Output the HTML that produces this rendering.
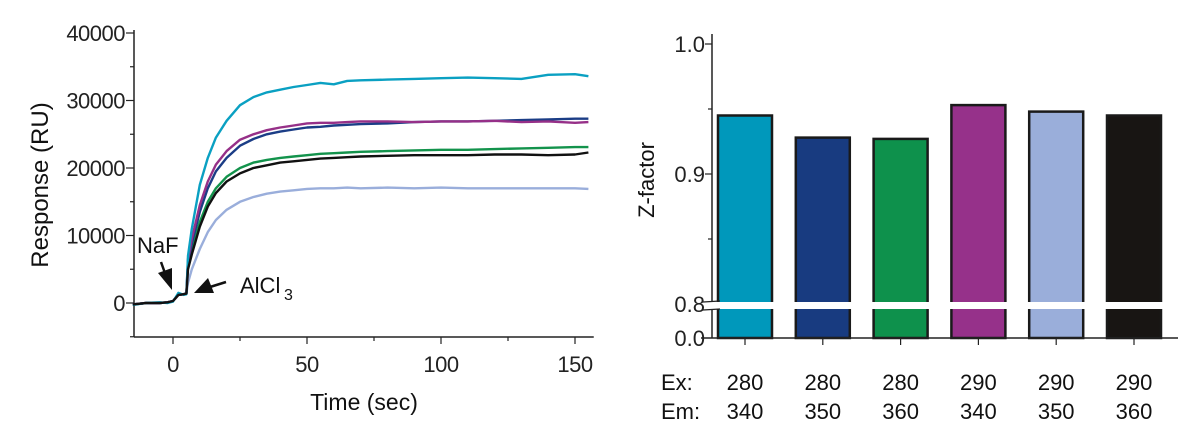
<!DOCTYPE html>
<html><head><meta charset="utf-8"><style>
html,body{margin:0;padding:0;background:#fff;}
svg{display:block;font-family:"Liberation Sans",Arial,sans-serif;}
</style></head><body>
<svg width="1200" height="446" viewBox="0 0 1200 446" xmlns="http://www.w3.org/2000/svg">
<g id="left"></g>
<g id="right"></g>
</svg>
<script>
const times = [-15,-10,-5,-2,0,2,4,5,5.6,7,10,13,16,20,25,30,35,40,45,50,55,60,65,70,80,90,100,110,120,130,140,150,155];
const pre = [-200,0,0,100,300,1200,1300,1400];
const cyanVals = [-300,0,100,0,200,1500,1200,1300,7000,11000,17500,21500,24500,27000,29300,30500,31200,31600,32000,32300,32600,32400,32900,33000,33100,33200,33300,33400,33300,33200,33800,33900,33600];
const purpleVals = pre.concat([6500,9500,14500,18000,20500,22500,24200,25000,25600,26000,26300,26600,26700,26700,26800,26900,26900,26800,26900,26900,27000,26800,26900,26700,26800]);
const navyVals = pre.concat([6000,8800,13500,17000,19500,21500,23300,24300,25000,25400,25700,26000,26100,26300,26400,26500,26600,26800,26900,26900,27000,27100,27200,27300,27300]);
const greenVals = pre.concat([5500,8000,12000,15000,17000,18700,20000,20800,21200,21500,21700,21900,22100,22200,22300,22400,22500,22600,22700,22700,22800,22900,23000,23100,23100]);
const lightVals = pre.concat([3000,5000,8000,10500,12300,13800,15000,15700,16200,16500,16700,16900,17000,17000,17100,17000,17100,17000,17100,17000,17000,17000,17000,17000,16900]);
const blackVals = pre.concat([5000,7200,11300,14300,16300,18000,19200,20000,20400,20800,21000,21200,21400,21500,21600,21700,21800,21900,21900,21900,22000,22000,21900,22000,22300]);
const seriesNames = ["light","green","navy","purple","cyan","black"];
const seriesColors = ["#9aaedb","#13934c","#1b3d86","#963088","#0aa0c2","#111111"];
const seriesData = [lightVals,greenVals,navyVals,purpleVals,cyanVals,blackVals];
const yTicks = [0,10000,20000,30000,40000];
const xTicks = [0,50,100,150];

const barLabelsEx = ["280","280","280","290","290","290"];
const barLabelsEm = ["340","350","360","340","350","360"];
const zValues = [0.945,0.928,0.927,0.953,0.948,0.945];
const barColors = ["#0098bb","#183b80","#0e914c","#96318a","#9aaeda","#181513"];

const NS="http://www.w3.org/2000/svg";
function mk(parent,tag,attrs,text){const e=document.createElementNS(NS,tag);for(const k in attrs)e.setAttribute(k,attrs[k]);if(text!==undefined)e.textContent=text;parent.appendChild(e);return e;}

// left chart
const L=document.getElementById('left');
const xs=t=>173+(t)*2.68;
const ys=v=>303-v*0.00675;
let e;
e=mk(L,'line',{x1:134,y1:30,x2:134,y2:337,stroke:'#222','stroke-width':1.5});

e=mk(L,'line',{x1:134,y1:337,x2:xs(157),y2:337,stroke:'#222','stroke-width':1.5});

for(let v=-5000;v<=40000;v+=5000){const major=v%10000===0;
 e=mk(L,'line',{x1:major?126:130,y1:ys(v),x2:134,y2:ys(v),stroke:'#222','stroke-width':1.2});
 }
yTicks.forEach(v=>{e=mk(L,'text',{x:125,y:ys(v)+8,'text-anchor':'end','font-size':22,fill:'#222','letter-spacing':'-0.5'},String(v));
 });
for(let t=0;t<=150;t+=25){const major=t%50===0;
 e=mk(L,'line',{x1:xs(t),y1:337,x2:xs(t),y2:major?344:341,stroke:'#222','stroke-width':1.2});
 }
xTicks.forEach(t=>{e=mk(L,'text',{x:xs(t),y:372,'text-anchor':'middle','font-size':22,fill:'#222','letter-spacing':'-0.5'},String(t));
 });
e=mk(L,'text',{x:364,y:410,'text-anchor':'middle','font-size':23,fill:'#111'},'Time (sec)');

e=mk(L,'text',{x:0,y:0,'text-anchor':'middle','font-size':24,fill:'#111',transform:'translate(48,185) rotate(-90)'},'Response (RU)');

seriesData.forEach((vals,i)=>{
 const d=vals.map((v,j)=>(j?'L':'M')+xs(times[j]).toFixed(1)+','+ys(v).toFixed(1)).join(' ');
 e=mk(L,'path',{d:d,fill:'none',stroke:seriesColors[i],'stroke-width':2.4,'stroke-linejoin':'round'});
 
});
e=mk(L,'text',{x:137,y:253,'font-size':22,fill:'#111'},'NaF');

e=mk(L,'g',{});
mk(e,'line',{x1:161,y1:262,x2:166,y2:276,stroke:'#111','stroke-width':2.5});
mk(e,'polygon',{points:'172,290 158,273 172,268',fill:'#111'});
e=mk(L,'text',{x:240,y:293,'font-size':22,fill:'#111'},'AlCl');

e=mk(L,'text',{x:284,y:300,'font-size':16,fill:'#111'},'3');

e=mk(L,'g',{});
mk(e,'line',{x1:226,y1:282,x2:210,y2:287,stroke:'#111','stroke-width':2.5});
mk(e,'polygon',{points:'194,293 208,278 214,293',fill:'#111'});

// right chart
const R=document.getElementById('right');
const zy=v=>174-(v-0.9)*1300;
const ax=712, base=338;
const barX=i=>718+i*77.8, bw=54;
zValues.forEach((v,i)=>{
 e=mk(R,'rect',{x:barX(i),y:zy(v),width:bw,height:base-zy(v),fill:barColors[i],stroke:'#1a1a1a','stroke-width':2.5});
 
});
e=mk(R,'rect',{x:714,y:302,width:450,height:7,fill:'#fff'});

e=mk(R,'line',{x1:ax,y1:34,x2:ax,y2:302,stroke:'#222','stroke-width':1.5});

e=mk(R,'line',{x1:ax,y1:309,x2:ax,y2:338,stroke:'#222','stroke-width':1.5});

e=mk(R,'line',{x1:703,y1:302,x2:720,y2:301,stroke:'#222','stroke-width':1.3});

e=mk(R,'line',{x1:703,y1:310,x2:720,y2:309,stroke:'#222','stroke-width':1.3});

e=mk(R,'line',{x1:701,y1:base,x2:1178,y2:base,stroke:'#222','stroke-width':1.5});

[[1.0,'1.0',true],[0.95,'',false],[0.9,'0.9',true],[0.85,'',false]].forEach(([v,l,m])=>{
 e=mk(R,'line',{x1:m?705:708,y1:zy(v),x2:ax,y2:zy(v),stroke:'#222','stroke-width':1.2});
 
 if(l){e=mk(R,'text',{x:705,y:zy(v)+8,'text-anchor':'end','font-size':22,fill:'#222'},l);
 }
});
e=mk(R,'text',{x:705,y:312,'text-anchor':'end','font-size':22,fill:'#222'},'0.8');

e=mk(R,'text',{x:705,y:346,'text-anchor':'end','font-size':22,fill:'#222'},'0.0');

e=mk(R,'text',{x:0,y:0,'text-anchor':'middle','font-size':22,fill:'#111',transform:'translate(654,180) rotate(-90)'},'Z-factor');

e=mk(R,'text',{x:661,y:390,'font-size':22,fill:'#111'},'Ex:');

e=mk(R,'text',{x:661,y:419,'font-size':22,fill:'#111'},'Em:');

zValues.forEach((v,i)=>{const cx=barX(i)+bw/2;
 e=mk(R,'line',{x1:cx,y1:base,x2:cx,y2:base+7,stroke:'#222','stroke-width':1.2});
 
 e=mk(R,'text',{x:cx,y:390,'text-anchor':'middle','font-size':22,fill:'#111'},barLabelsEx[i]);
 
 e=mk(R,'text',{x:cx,y:419,'text-anchor':'middle','font-size':22,fill:'#111'},barLabelsEm[i]);
 
});
</script>
</body></html>
